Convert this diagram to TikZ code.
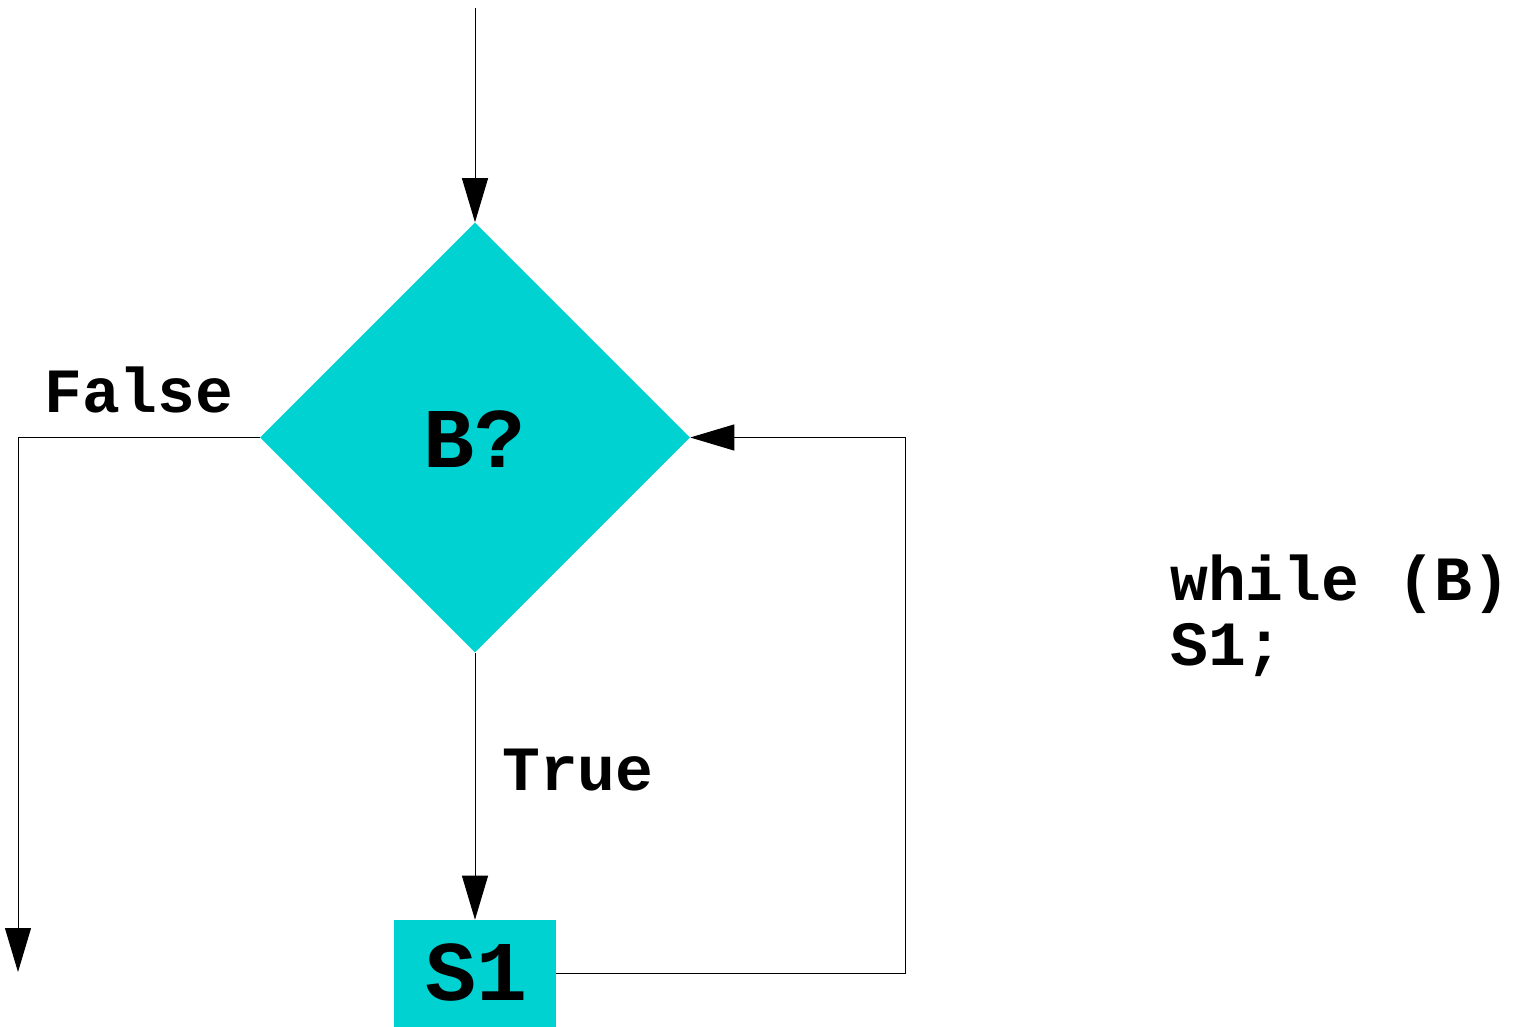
\documentclass[tikz,border=0pt]{standalone}
\usepackage{fontspec}
\setmonofont{Liberation Mono}
\usetikzlibrary{shapes.geometric,arrows.meta}
\definecolor{cy}{HTML}{00D2D2}
\tikzset{
  flow/.style={line width=0.75pt,-{Triangle[length=33pt,width=19.5pt]}},
  plain/.style={line width=0.75pt},
  lbl/.style={font=\ttfamily\bfseries\fontsize{47.25pt}{49pt}\selectfont,inner sep=0pt,anchor=base west},
  big/.style={font=\ttfamily\bfseries\fontsize{63.75pt}{66pt}\selectfont,inner sep=0pt}
}
\begin{document}
\begin{tikzpicture}[x=0.75pt,y=-0.75pt]
\useasboundingbox (0,0) rectangle (1522,1027);
\node[diamond,aspect=1,fill=cy,inner sep=0pt,minimum size=322.5pt] (d) at (475,437.5) {};
\node[big,anchor=base] (bt) at (475,467) {B?};
\node[fill=cy,minimum width=121.5pt,minimum height=80.25pt,inner sep=0pt] (s) at (475,973.5) {};
\node[big,anchor=base] (st) at (477,1000) {S1};
\coordinate (top) at (475,8);
\coordinate (fc) at (18,437.5);
\coordinate (fe) at (18,972);
\coordinate (r1) at (905,973.5);
\coordinate (r2) at (905,437.5);
\draw[flow] (top) -- (d.north);
\draw[flow] (d.west) -- (fc) -- (fe);
\draw[flow] (d.south) -- (s.north);
\draw[flow] (s.east) -- (r1) -- (r2) -- (d.east);
\node[lbl] (fl) at (44,412) {False};
\node[lbl] (tl) at (502,790) {True};
\node[lbl] (w1) at (1170,600) {while (B)};
\node[lbl] (w2) at (1170,665) {S1;};
\end{tikzpicture}
\end{document}
